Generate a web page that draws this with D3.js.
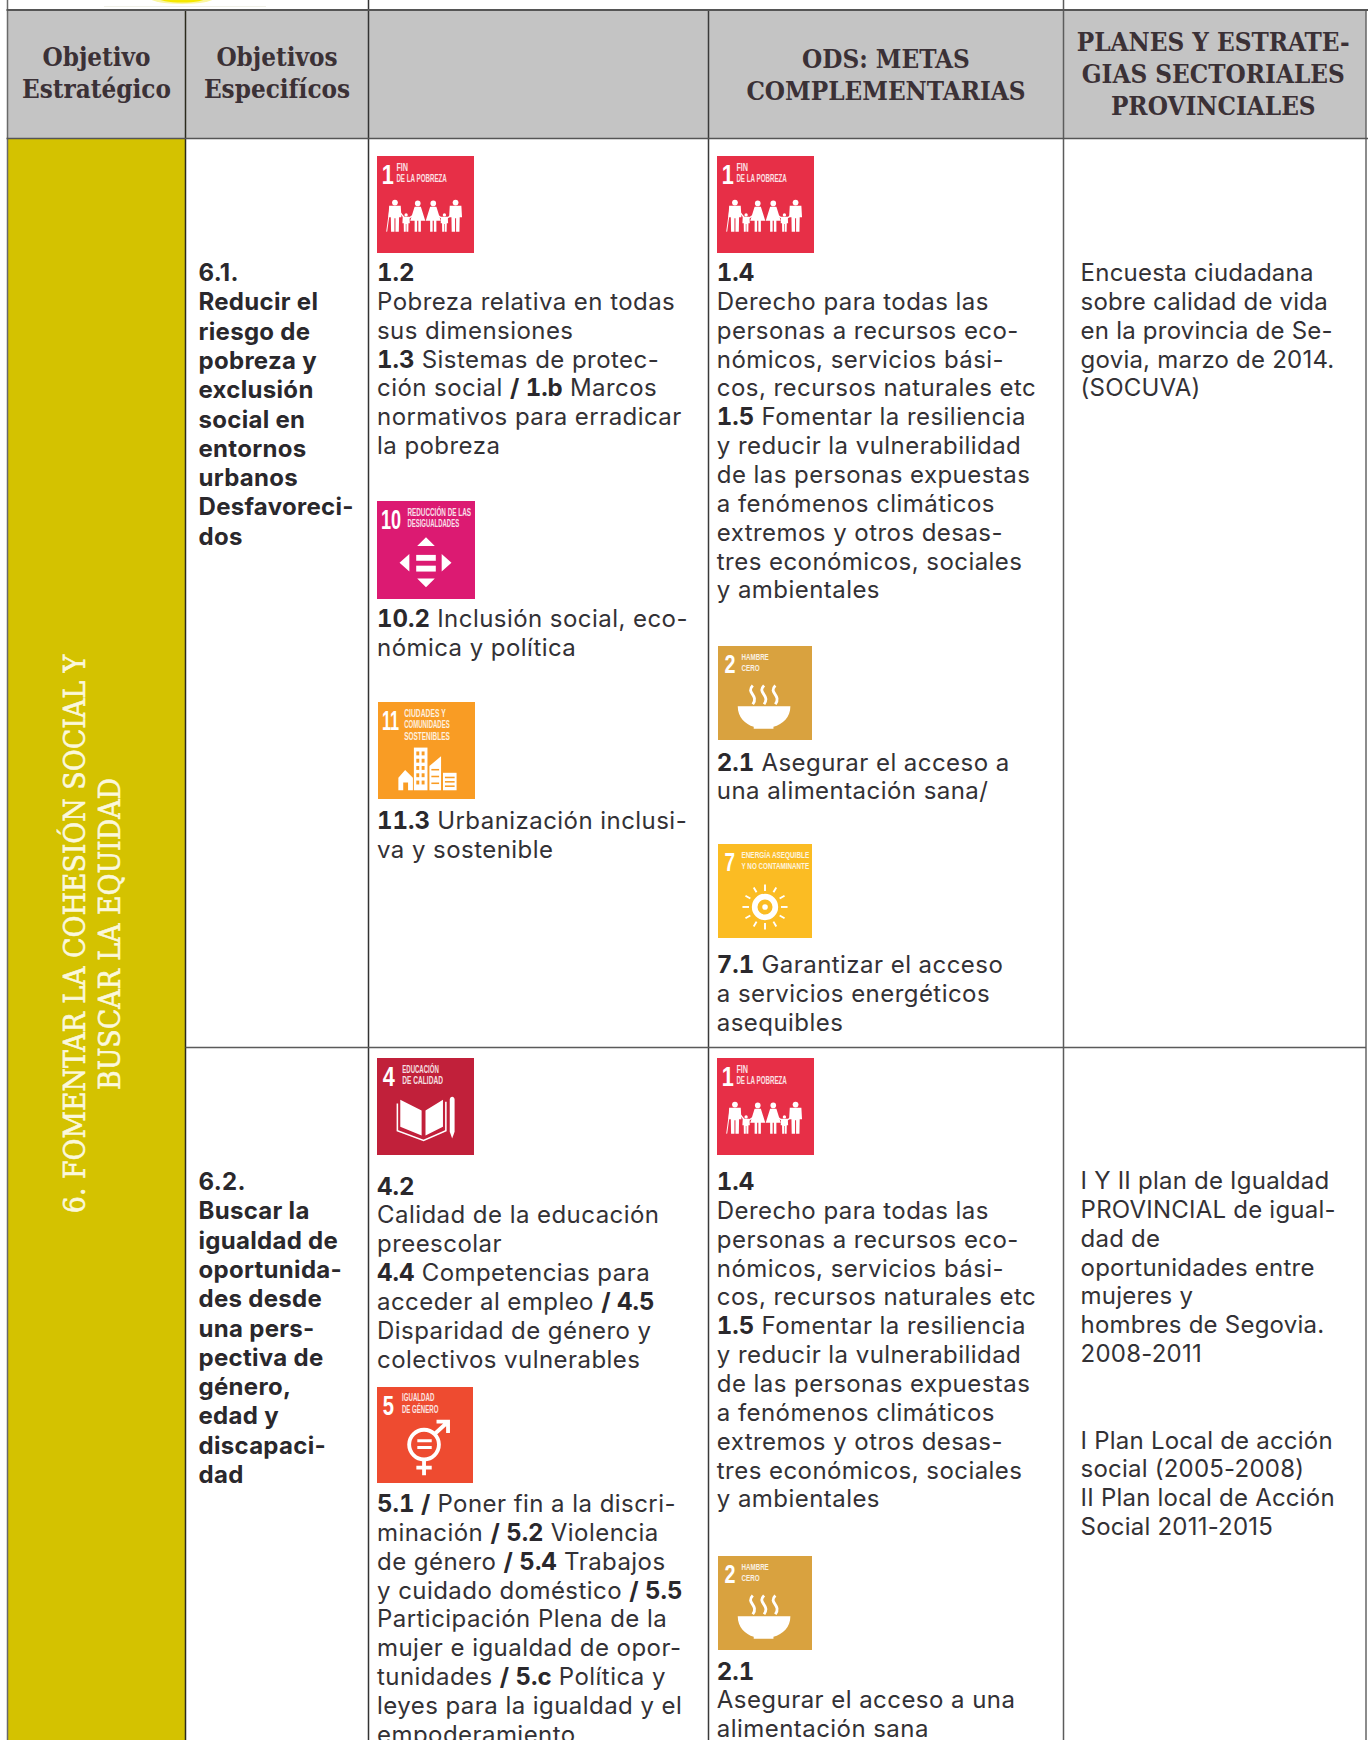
<!DOCTYPE html>
<html>
<head>
<meta charset="utf-8">
<script src="https://d3js.org/d3.v7.min.js"></script>
<style>
  body { margin: 0; background: #fff; }
  svg { display: block; }
  .body { font-family: Inter, "Noto Sans", sans-serif; font-size: 24px; fill: #333135; letter-spacing: 0.45px; }
  .body .b { font-weight: 700; fill: #2a282c; font-feature-settings: "tnum"; letter-spacing: 0; }
  .bold { font-weight: 700; fill: #2a282c; letter-spacing: 0.3px; }
  .plan { letter-spacing: 0.22px; }
  .head { font-family: "DejaVu Serif Condensed", "DejaVu Serif", serif; font-weight: 700; font-size: 25.8px; fill: #3b3136; text-anchor: middle; }
  .side { font-family: "DejaVu Serif Condensed", "DejaVu Serif", serif; font-size: 29.8px; fill: #fbf8dc; stroke: #fbf8dc; stroke-width: 0.6px; text-anchor: middle; }
  .ico { font-family: "Liberation Sans", sans-serif; fill: #fff; font-weight: 700; }
</style>
</head>
<body>
<svg id="chart" width="1372" height="1740"></svg>
<script>
// ---- content ----
var headA = ["Objetivo", "Estratégico"];
var headB = ["Objetivos", "Especifícos"];
var headD = ["ODS: METAS", "COMPLEMENTARIAS"];
var headE = ["PLANES Y ESTRATE-", "GIAS SECTORIALES", "PROVINCIALES"];
var sideTitle = ["6. FOMENTAR LA COHESIÓN SOCIAL Y", "BUSCAR LA EQUIDAD"];

// *...* marks the bold runs
var obj61 = ["6.1.", "Reducir el", "riesgo de", "pobreza y", "exclusión", "social en", "entornos", "urbanos", "Desfavoreci-", "dos"];
var obj62 = ["6.2.", "Buscar la", "igualdad de", "oportunida-", "des desde", "una pers-", "pectiva de", "género,", "edad y", "discapaci-", "dad"];

var meta12 = ["*1.2*", "Pobreza relativa en todas", "sus dimensiones", "*1.3* Sistemas de protec-", "ción social */ 1.b* Marcos", "normativos para erradicar", "la pobreza"];
var meta102 = ["*10.2* Inclusión social, eco-", "nómica y política"];
var meta113 = ["*11.3* Urbanización inclusi-", "va y sostenible"];
var meta14 = ["*1.4*", "Derecho para todas las", "personas a recursos eco-", "nómicos, servicios bási-", "cos, recursos naturales etc", "*1.5* Fomentar la resiliencia", "y reducir la vulnerabilidad", "de las personas expuestas", "a fenómenos climáticos", "extremos y otros desas-", "tres económicos, sociales", "y ambientales"];
var meta21a = ["*2.1* Asegurar el acceso a", "una alimentación sana/"];
var meta71 = ["*7.1* Garantizar el acceso", "a servicios energéticos", "asequibles"];
var meta42 = ["*4.2*", "Calidad de la educación", "preescolar", "*4.4* Competencias para", "acceder al empleo */ 4.5*", "Disparidad de género y", "colectivos vulnerables"];
var meta51 = ["*5.1 /* Poner fin a la discri-", "minación */ 5.2* Violencia", "de género */ 5.4* Trabajos", "y cuidado doméstico */ 5.5*", "Participación Plena de la", "mujer e igualdad de opor-", "tunidades */ 5.c* Política y", "leyes para la igualdad y el", "empoderamiento"];
var meta21b = ["*2.1*", "Asegurar el acceso a una", "alimentación sana"];

var plan1 = ["Encuesta ciudadana", "sobre calidad de vida", "en la provincia de Se-", "govia, marzo de 2014.", "(SOCUVA)"];
var plan2 = ["I Y II plan de Igualdad", "PROVINCIAL de igual-", "dad de", "oportunidades entre", "mujeres y", "hombres de Segovia.", "2008-2011"];
var plan3 = ["I Plan Local de acción", "social (2005-2008)", "II Plan local de Acción", "Social 2011-2015"];

var sdgCodes = [1, 2, 4, 5, 7, 10, 11];
var sdgColors = ["#e72f47", "#d9a23f", "#c1203a", "#ee4b30", "#fbbc23", "#dc1a72", "#f99c24"];
var sdgLabels = [
  ["FIN", "DE LA POBREZA"],
  ["HAMBRE", "CERO"],
  ["EDUCACIÓN", "DE CALIDAD"],
  ["IGUALDAD", "DE GÉNERO"],
  ["ENERGÍA ASEQUIBLE", "Y NO CONTAMINANTE"],
  ["REDUCCIÓN DE LAS", "DESIGUALDADES"],
  ["CIUDADES Y", "COMUNIDADES", "SOSTENIBLES"]
];

// ---- layout ----
var svg = d3.select("#chart");
var W = 1372, H = 1740;
var colEdge = d3.scaleOrdinal().domain(["a", "b", "c", "d", "e", "end"]).range([7.5, 185.5, 368.5, 708.5, 1063.5, 1366]);
var textX = d3.scaleOrdinal().domain(["b", "c", "d", "e"]).range([198.5, 377, 716.8, 1080.6]);
var LEAD = 28.85, LEAD_B = 29.3;
var topY = 10, headY = 138.5, rowY = 1047.5;

function center(k1, k2) { return (colEdge(k1) + colEdge(k2)) / 2; }

// ---- backgrounds ----
svg.append("rect").attr("x", colEdge("a")).attr("y", topY).attr("width", colEdge("end") - colEdge("a")).attr("height", headY - topY).attr("fill", "#c4c4c4");
svg.append("rect").attr("x", colEdge("a")).attr("y", headY).attr("width", colEdge("b") - colEdge("a")).attr("height", H - headY).attr("fill", "#d4c200");

// bit of the logo from the row above
svg.append("line").attr("x1", 104).attr("x2", 266).attr("y1", 6.5).attr("y2", 6.5).attr("stroke", "#f0f0e8");
svg.append("ellipse").attr("cx", 182).attr("cy", -2).attr("rx", 32).attr("ry", 6).attr("fill", "#fbf7a0");
svg.append("ellipse").attr("cx", 182).attr("cy", -2).attr("rx", 24).attr("ry", 4.5).attr("fill", "#f6e800");

// ---- grid lines ----
function rule(x1, y1, x2, y2, color, w) {
  svg.append("line").attr("x1", x1).attr("y1", y1).attr("x2", x2).attr("y2", y2).attr("stroke", color).attr("stroke-width", w);
}
rule(colEdge("a"), 0, colEdge("a"), H, "#6a6a6a", 1.5);
rule(colEdge("b"), topY, colEdge("b"), H, "#2b2a1c", 1.5);
rule(colEdge("c"), 0, colEdge("c"), H, "#333", 1.5);
rule(colEdge("d"), topY, colEdge("d"), H, "#3a3a3a", 1.5);
rule(colEdge("e"), 0, colEdge("e"), H, "#5c5c5c", 1.5);
rule(colEdge("end"), topY, colEdge("end"), H, "#666", 1.5);
rule(colEdge("a") - 1, topY, W - 4, topY, "#555", 2);
rule(colEdge("a") - 1, headY, W - 4, headY, "#555", 1.5);
rule(colEdge("b"), rowY, colEdge("end"), rowY, "#5a5a5a", 1.3);

// ---- header text ----
function headBlock(lines, cx, firstBase, lead) {
  svg.selectAll(null).data(lines).enter().append("text").attr("class", "head")
    .attr("x", cx).attr("y", function (d, i) { return firstBase + i * lead; }).text(function (d) { return d; });
}
headBlock(headA, center("a", "b"), 66, 32);
headBlock(headB, center("b", "c"), 66, 32);
headBlock(headD, center("d", "e"), 68, 32);
headBlock(headE, center("e", "end") - 1.5, 51, 32);

// rotated title
svg.selectAll(null).data(sideTitle).enter().append("text").attr("class", "side")
  .attr("transform", function (d, i) { return "translate(" + (85 + i * 35) + ",934) rotate(-90)"; })
  .text(function (d) { return d; });

// ---- body text ----
function addText(lines, col, firstBase, lead, extra) {
  var t = svg.selectAll(null).data(lines).enter().append("text")
    .attr("class", extra ? "body " + extra : "body")
    .attr("x", textX(col))
    .attr("y", function (d, i) { return firstBase + i * lead; });
  t.each(function (d) {
    var el = d3.select(this);
    d.split("*").forEach(function (part, i) {
      if (part === "") return;
      el.append("tspan").attr("class", i % 2 ? "b" : null).text(part);
    });
  });
}
addText(obj61, "b", 281, LEAD_B, "bold");
addText(obj62, "b", 1190, LEAD_B, "bold");

addText(meta12, "c", 281, LEAD);
addText(meta102, "c", 627, LEAD);
addText(meta113, "c", 829, LEAD);
addText(meta42, "c", 1194.5, LEAD);
addText(meta51, "c", 1512, LEAD);

addText(meta14, "d", 281, LEAD);
addText(meta21a, "d", 770.5, LEAD);
addText(meta71, "d", 973, LEAD);
addText(meta14, "d", 1190, LEAD);
addText(meta21b, "d", 1679.5, LEAD);

addText(plan1, "e", 281, LEAD, "plan");
addText(plan2, "e", 1189, LEAD, "plan");
addText(plan3, "e", 1448.5, LEAD, "plan");

// ---- SDG icons, drawn in a 100 unit square ----
function person(g, cx, top, h, dress) {
  var u = h / 31, w = 1.25 * u;
  g.append("circle").attr("cx", cx).attr("cy", top + 2.8 * u).attr("r", 2.8 * u).attr("fill", "#fff");
  var p = dress
    ? ["M", cx - 2.5 * w, top + 6 * u, "L", cx + 2.5 * w, top + 6 * u, "L", cx + 6 * w, top + 20 * u, "L", cx + 2.5 * w, top + 20 * u, "L", cx + 2.5 * w, top + h, "L", cx + 0.5 * w, top + h, "L", cx + 0.5 * w, top + 20 * u, "L", cx - 0.5 * w, top + 20 * u, "L", cx - 0.5 * w, top + h, "L", cx - 2.5 * w, top + h, "L", cx - 2.5 * w, top + 20 * u, "L", cx - 6 * w, top + 20 * u, "Z"]
    : ["M", cx - 4.5 * w, top + 6 * u, "L", cx + 4.5 * w, top + 6 * u, "L", cx + 5 * w, top + 17 * u, "L", cx + 3.2 * w, top + 17 * u, "L", cx + 3 * w, top + h, "L", cx + 0.4 * w, top + h, "L", cx + 0.4 * w, top + 18 * u, "L", cx - 0.4 * w, top + 18 * u, "L", cx - 0.4 * w, top + h, "L", cx - 3 * w, top + h, "L", cx - 3.2 * w, top + 17 * u, "L", cx - 5 * w, top + 17 * u, "Z"];
  g.append("path").attr("d", p.join(" ")).attr("fill", "#fff");
}
var glyphs = {
  1: function (g) {
    person(g, 18.5, 45, 33, false);
    person(g, 30, 59, 19, false);
    person(g, 42, 46, 32, true);
    person(g, 58, 46, 32, true);
    person(g, 69.5, 59, 19, false);
    person(g, 81, 45, 33, false);
    g.append("path").attr("d", "M22 56 L30 66 M42 58 L30 66 M58 58 L69.5 66 M81 58 L69.5 66").attr("stroke", "#fff").attr("stroke-width", 1.4);
    g.append("line").attr("x1", 10).attr("y1", 78).attr("x2", 13).attr("y2", 56).attr("stroke", "#fff").attr("stroke-width", 1);
  },
  2: function (g) {
    [37, 49, 61].forEach(function (x) {
      g.append("path").attr("d", "M" + x + " 42 C" + (x - 8) + " 50," + (x + 7) + " 52," + x + " 62").attr("fill", "none").attr("stroke", "#fff").attr("stroke-width", 3);
    });
    g.append("path").attr("d", "M21 64 L77 64 C77 76,69 83,59 86 L59 88 L38 88 L38 86 C29 83,21 76,21 64 Z").attr("fill", "#fff");
  },
  4: function (g) {
    g.append("path").attr("d", "M24 43 L46 54 L46 80 L24 71 Z M68 43 L50 54 L50 80 L68 71 Z").attr("fill", "#fff");
    g.append("path").attr("d", "M21 47 L21 75 L48 85 L71 75 L71 45").attr("fill", "none").attr("stroke", "#fff").attr("stroke-width", 1.6);
    g.append("path").attr("d", "M75 43 C75 39,80 39,80 43 L80 76 L77.5 83 L75 76 Z").attr("fill", "#fff");
  },
  5: function (g) {
    g.append("circle").attr("cx", 49).attr("cy", 60).attr("r", 15.5).attr("fill", "none").attr("stroke", "#fff").attr("stroke-width", 4);
    g.append("path").attr("d", "M60 49 L72 38 M62 36 L74 36 L74 48").attr("fill", "none").attr("stroke", "#fff").attr("stroke-width", 4);
    g.append("path").attr("d", "M49 75 L49 92 M41 84 L57 84").attr("stroke", "#fff").attr("stroke-width", 4);
    g.append("path").attr("d", "M42 56 L57 56 M42 63 L57 63").attr("stroke", "#fff").attr("stroke-width", 3.2);
  },
  7: function (g) {
    g.append("circle").attr("cx", 50).attr("cy", 67).attr("r", 11).attr("fill", "none").attr("stroke", "#fff").attr("stroke-width", 6);
    g.append("circle").attr("cx", 50).attr("cy", 67).attr("r", 3).attr("fill", "#fff");
    d3.range(12).forEach(function (i) {
      var a = i * Math.PI / 6, r1 = i % 3 === 0 ? 17 : 18, r2 = 24;
      g.append("line").attr("x1", 50 + r1 * Math.cos(a)).attr("y1", 67 + r1 * Math.sin(a))
        .attr("x2", 50 + r2 * Math.cos(a)).attr("y2", 67 + r2 * Math.sin(a))
        .attr("stroke", "#fff").attr("stroke-width", 2);
    });
  },
  10: function (g) {
    g.append("path").attr("d", "M50 37 L59 46 L41 46 Z M50 88 L59 79 L41 79 Z M23 63 L33 54 L33 72 Z M76 63 L66 54 L66 72 Z").attr("fill", "#fff");
    g.append("rect").attr("x", 40).attr("y", 55).attr("width", 20).attr("height", 6).attr("fill", "#fff");
    g.append("rect").attr("x", 40).attr("y", 66).attr("width", 20).attr("height", 6).attr("fill", "#fff");
  },
  11: function (g) {
    g.append("path").attr("d", "M21 78 L28 70 L36 78 L36 91 L31 91 L31 83 L26 83 L26 91 L21 91 Z").attr("fill", "#fff");
    g.append("rect").attr("x", 37).attr("y", 47).attr("width", 14).attr("height", 44).attr("fill", "#fff");
    g.append("path").attr("d", "M53 66 L65 56 L65 91 L53 91 Z").attr("fill", "#fff");
    g.append("rect").attr("x", 67).attr("y", 73).attr("width", 14).attr("height", 18).attr("fill", "#fff");
    d3.range(5).forEach(function (r) {
      d3.range(2).forEach(function (c) {
        g.append("rect").attr("x", 39.5 + c * 5.5).attr("y", 51 + r * 7.5).attr("width", 3).attr("height", 4).attr("fill", "#f99c24");
      });
    });
    d3.range(3).forEach(function (r) {
      g.append("rect").attr("x", 55).attr("y", 69 + r * 7).attr("width", 8).attr("height", 1.6).attr("fill", "#f99c24");
      g.append("rect").attr("x", 69).attr("y", 77 + r * 4.5).attr("width", 10).attr("height", 1.6).attr("fill", "#f99c24");
    });
  }
};
// label start and width of its longest line, number start and squeeze
var labelFit = { 1: [20, 52, 5, 0.8], 2: [25, 29, 7, 0.75], 4: [26, 42, 6, 0.8], 5: [26, 38, 6, 0.75], 7: [25, 72, 7, 0.72], 10: [31, 65, 4, 0.66], 11: [27, 47, 4, 0.6] };

function addIcon(code, x, y, size) {
  var k = sdgCodes.indexOf(code);
  var fit = labelFit[code];
  var g = svg.append("g").attr("transform", "translate(" + x + "," + y + ") scale(" + size / 100 + ")");
  g.append("rect").attr("width", 100).attr("height", 100).attr("fill", sdgColors[k]);
  g.append("text").attr("class", "ico").attr("font-size", 28)
    .attr("transform", "translate(" + fit[2] + ",29) scale(" + fit[3] + ",1)").text(code);
  var longest = d3.max(sdgLabels[k], function (s) { return s.length; });
  g.selectAll(null).data(sdgLabels[k]).enter().append("text").attr("class", "ico")
    .attr("x", fit[0])
    .attr("y", function (d, i) { return 15 + i * 12; })
    .attr("font-size", 10.5)
    .attr("opacity", 0.85)
    .attr("textLength", function (d) { return fit[1] * d.length / longest; })
    .attr("lengthAdjust", "spacingAndGlyphs")
    .text(function (d) { return d; });
  glyphs[code](g);
}
addIcon(1, 377, 156, 97);
addIcon(10, 377, 501, 98);
addIcon(11, 378, 702, 97);
addIcon(1, 717, 156, 97);
addIcon(2, 718, 646, 94);
addIcon(7, 718, 844, 94);
addIcon(4, 377, 1058, 97);
addIcon(1, 717, 1058, 97);
addIcon(5, 377, 1387, 96);
addIcon(2, 718, 1556, 94);
</script>
</body>
</html>
